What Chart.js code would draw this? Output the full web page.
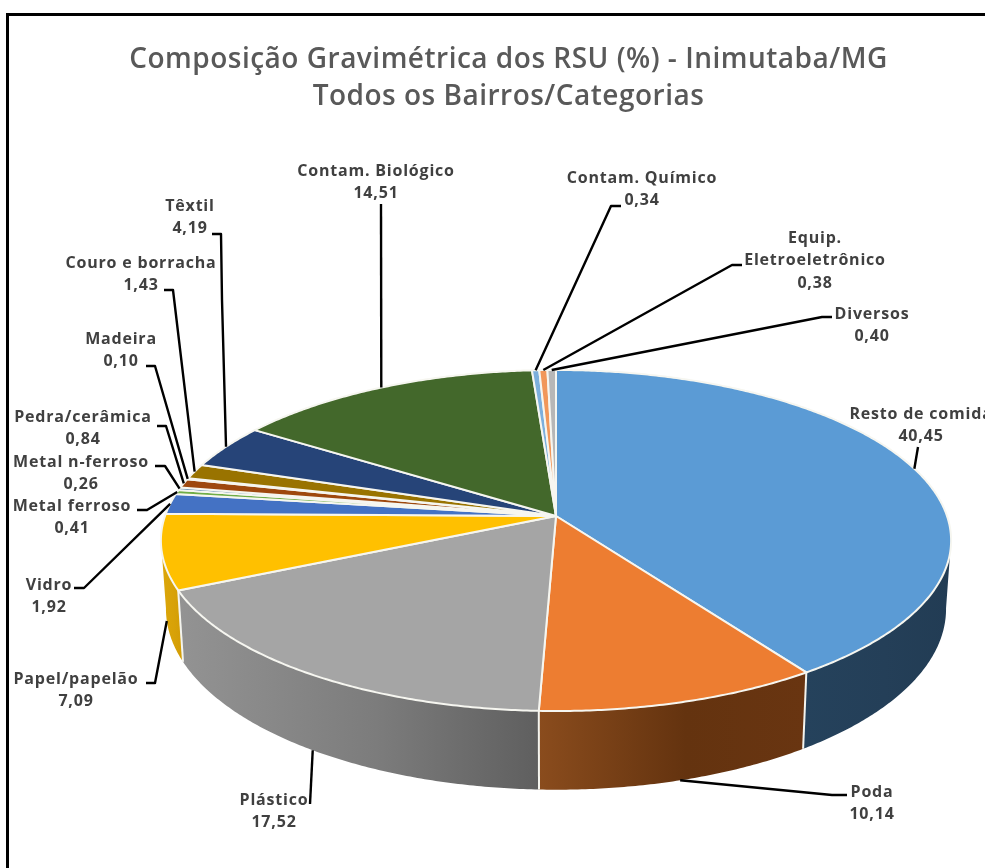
<!DOCTYPE html>
<html lang="pt">
<head>
<meta charset="utf-8">
<title>Composição Gravimétrica dos RSU</title>
<style>
html,body{margin:0;padding:0;background:#fff;overflow:hidden}
#wrap{position:relative;width:985px;height:868px}
</style>
<script src="https://cdn.jsdelivr.net/npm/chart.js@4"></script>
</head>
<body>
<div id="wrap"><canvas id="c" width="985" height="868"></canvas></div>
<script>
const titleLines = ["Composição Gravimétrica dos RSU (%) - Inimutaba/MG", "Todos os Bairros/Categorias"];
const categories = ["Resto de comida","Poda","Plástico","Papel/papelão","Vidro","Metal ferroso","Metal n-ferroso","Pedra/cerâmica","Madeira","Couro e borracha","Têxtil","Contam. Biológico","Contam. Químico","Equip. Eletroeletrônico","Diversos"];
const values = [40.45,10.14,17.52,7.09,1.92,0.41,0.26,0.84,0.10,1.43,4.19,14.51,0.34,0.38,0.40];
const colors = ["#5B9BD5","#ED7D31","#A5A5A5","#FFC000","#4472C4","#70AD47","#255E91","#9E480E","#636363","#997300","#264478","#43682B","#7CAFDD","#F1975A","#B7B7B7"];
// side-wall shading (colour at the left, middle and right) of the slices facing the viewer
const wallLeft  = {0:"#25425c",1:"#8a4c1d",2:"#939393",3:"#dca70a"};
const wallMid   = {0:"#243f58",1:"#64330f",2:"#7c7c7c",3:"#d8a208"};
const wallRight = {0:"#223c54",1:"#693511",2:"#5f5f5f",3:"#d29c05"};
// label layout: centre x, y of the first line
const labelCx = [921,872,274,76,49,72,81,83,121,141,190,376,642,815,872];
const labelY  = [414,792,800,679,585,506,462,417,339,263,206,171,178,238,314];
const labelLines = [null,null,null,null,null,null,null,null,null,null,null,null,null,["Equip.","Eletroeletrônico"],null];
// leader elbows: points between the label and the pie rim
const leaders = [
  [[918,447]], [[847,795],[832,795]], [[310,804]], [[146,683],[155,683]], [[74,588],[84,588]],
  [[137,510],[147,510]], [[155,466],[165,466]], [[157,426],[166,426]], [[146,366],[155,366]],
  [[164,290],[173,290]], [[212,234],[221,234],[222,300]], [[381,204]], [[621,206],[611,206]],
  [[742,265],[732,265]], [[832,317],[822,317]]
];

// perspective disc: a circle seen from the front and above
const TOP = {cx:556, cy:516, rx:391, ry:167, k:0.1437};
const BOT = {cx:556, cy:583, rx:386, ry:177, k:0.1437};
const project = (ring, a) => {
  const u = Math.cos(a), v = Math.sin(a), d = 1 - ring.k * v;
  return [ring.cx + ring.rx * u / d, ring.cy + ring.ry * v / d];
};
const deg = Math.PI / 180;
const FRONT_FROM = 8 * deg, FRONT_TO = 172 * deg; // part of the rim whose wall faces the viewer
const arcPts = (ring, from, to) => {
  const n = Math.max(2, Math.ceil(Math.abs(to - from) / (0.5 * deg)));
  const pts = [];
  for (let i = 0; i <= n; i++) pts.push(project(ring, from + (to - from) * i / n));
  return pts;
};
const labelFont = '700 16px "Open Sans"';
const pie3d = {
  id: 'pie3d',
  beforeDraw(chart) {
    const c = chart.ctx;
    c.save();
    c.strokeStyle = '#000';
    c.lineWidth = 3;
    c.beginPath();
    c.moveTo(985, 14.5); c.lineTo(7.5, 14.5); c.lineTo(7.5, 868);
    c.stroke();
    c.restore();
    c.letterSpacing = '0.5px';
  },
  beforeDatasetsDraw(chart) {
    const c = chart.ctx, arcs = chart.getDatasetMeta(0).data;
    c.save();
    c.lineJoin = 'round';
    // side walls
    const seams = [];
    arcs.forEach((arc, i) => {
      const s = arc.startAngle, e = arc.endAngle;
      const from = Math.max(s, FRONT_FROM), to = Math.min(e, FRONT_TO);
      if (to <= from) return;
      const topPts = arcPts(TOP, from, to), botPts = arcPts(BOT, to, from);
      const xs = topPts.concat(botPts).map(p => p[0]);
      const g = c.createLinearGradient(Math.min(...xs), 0, Math.max(...xs), 0);
      g.addColorStop(0, wallLeft[i] || arc.options.backgroundColor);
      g.addColorStop(0.55, wallMid[i] || arc.options.backgroundColor);
      g.addColorStop(1, wallRight[i] || arc.options.backgroundColor);
      c.fillStyle = g;
      c.beginPath();
      topPts.concat(botPts).forEach((p, j) => j ? c.lineTo(p[0], p[1]) : c.moveTo(p[0], p[1]));
      c.closePath();
      c.fill();
      if (e < FRONT_TO && e > FRONT_FROM) seams.push(e);
    });
    c.strokeStyle = '#f4f4ee';
    c.lineWidth = 2;
    seams.forEach(a => {
      const p = project(TOP, a), q = project(BOT, a);
      c.beginPath(); c.moveTo(p[0], p[1]); c.lineTo(q[0], q[1]); c.stroke();
    });
    // top surface
    arcs.forEach(arc => {
      const pts = arcPts(TOP, arc.startAngle, arc.endAngle);
      c.beginPath();
      c.moveTo(TOP.cx, TOP.cy);
      pts.forEach(p => c.lineTo(p[0], p[1]));
      c.closePath();
      c.fillStyle = arc.options.backgroundColor;
      c.fill();
      c.strokeStyle = arc.options.borderColor;
      c.lineWidth = arc.options.borderWidth;
      c.stroke();
    });
    // leaders
    c.strokeStyle = '#000';
    c.lineWidth = 2.4;
    arcs.forEach((arc, i) => {
      const mid = (arc.startAngle + arc.endAngle) / 2;
      const onWall = mid > FRONT_FROM && mid < FRONT_TO;
      const end = project(onWall ? BOT : TOP, mid);
      c.beginPath();
      leaders[i].forEach((p, j) => j ? c.lineTo(p[0], p[1]) : c.moveTo(p[0], p[1]));
      c.lineTo(end[0], end[1]);
      c.stroke();
    });
    // labels
    c.font = labelFont;
    c.letterSpacing = '0.8px';
    c.fillStyle = '#404040';
    c.textAlign = 'center';
    c.textBaseline = 'middle';
    categories.forEach((name, i) => {
      const lines = (labelLines[i] || [name]).concat(values[i].toFixed(2).replace('.', ','));
      lines.forEach((t, j) => c.fillText(t, labelCx[i], labelY[i] + j * 22.7));
    });
    c.letterSpacing = '0px';
    c.restore();
    return false;
  }
};
new Chart(document.getElementById('c'), {
  type: 'pie',
  data: { labels: categories, datasets: [{ data: values, backgroundColor: colors, borderColor: '#f6f6f0', borderWidth: 2 }] },
  options: {
    responsive: false,
    animation: false,
    layout: { padding: { left: 32 } },
    plugins: {
      legend: { display: false },
      tooltip: { enabled: false },
      title: {
        display: true,
        text: titleLines,
        color: '#595959',
        font: { family: '"Open Sans"', size: 28, weight: '600', lineHeight: 1.34 },
        padding: { top: 41, bottom: 10 }
      }
    }
  },
  plugins: [pie3d]
});
</script>
</body>
</html>
